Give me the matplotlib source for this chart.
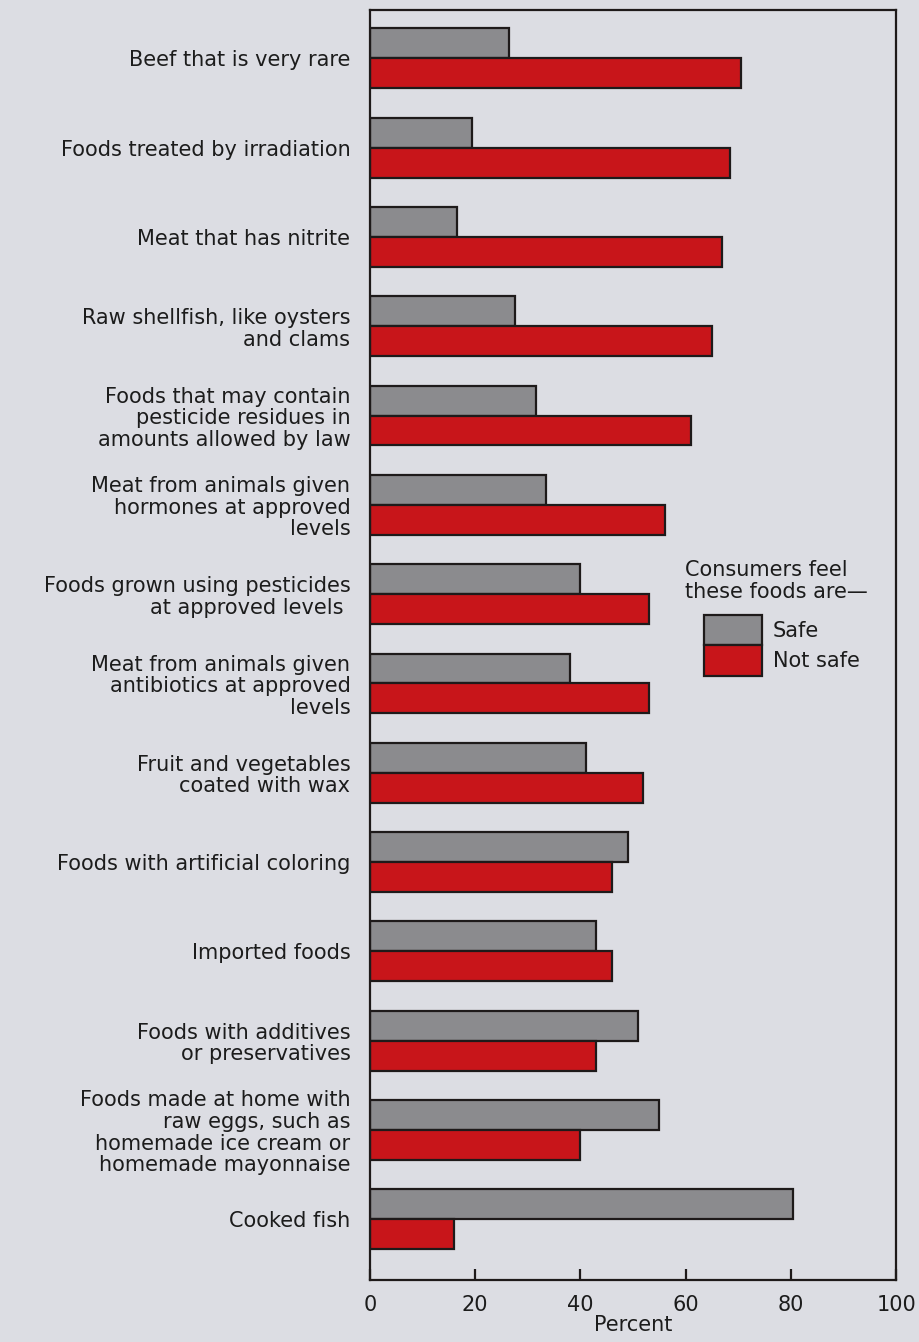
import numpy as np
import matplotlib.pyplot as plt
from matplotlib.patches import Patch

# --- data: share of consumers judging each food safe / not safe (%) ---
foods = [
    "Beef that is very rare",
    "Foods treated by irradiation",
    "Meat that has nitrite",
    "Raw shellfish, like oysters\nand clams",
    "Foods that may contain\npesticide residues in\namounts allowed by law",
    "Meat from animals given\nhormones at approved\nlevels",
    "Foods grown using pesticides\nat approved levels ",
    "Meat from animals given\nantibiotics at approved\nlevels",
    "Fruit and vegetables\ncoated with wax",
    "Foods with artificial coloring",
    "Imported foods",
    "Foods with additives\nor preservatives",
    "Foods made at home with\nraw eggs, such as\nhomemade ice cream or\nhomemade mayonnaise",
    "Cooked fish",
]
safe = [26.5, 19.5, 16.5, 27.5, 31.5, 33.5, 40, 38, 41, 49, 43, 51, 55, 80.5]
not_safe = [70.5, 68.5, 67, 65, 61, 56, 53, 53, 52, 46, 46, 43, 40, 16]

bg = "#dcdde3"
grey = "#8b8b8e"
red = "#c8151a"
edge = "#1e1a1a"
txt = "#1c1c1c"
fs = 15

plt.rcParams['font.family'] = ['DejaVu Sans']

fig = plt.figure(figsize=(9.2, 13.42), dpi=100, facecolor=bg)
ax = fig.add_axes([0.402, 0.0462, 0.572, 0.9463], facecolor=bg)

y = np.arange(len(foods))
h = 0.335
ax.barh(y - h / 2, safe, height=h, color=grey, edgecolor=edge, linewidth=1.6, label="Safe")
ax.barh(y + h / 2, not_safe, height=h, color=red, edgecolor=edge, linewidth=1.6, label="Not safe")

ax.set_xlim(0, 100)
ax.set_ylim(13.68, -0.54)

ax.set_yticks(y)
ax.set_yticklabels(foods, fontsize=fs, color=txt, linespacing=1.1)
ax.tick_params(axis='y', length=0, pad=14)

ax.set_xticks([0, 20, 40, 60, 80, 100])
ax.tick_params(axis='x', direction='in', length=8, width=1.6, color=edge,
               labelsize=fs, labelcolor=txt, pad=11)
ax.set_xlabel("Percent", fontsize=fs, color=txt, labelpad=0)

for s in ax.spines.values():
    s.set_linewidth(1.6)
    s.set_color(edge)

# legend: heading text plus stacked swatches
ax.text(0.598, 0.567, "Consumers feel\nthese foods are\u2014", transform=ax.transAxes,
        fontsize=fs, color=txt, va='top', ha='left', linespacing=1.1)
handles = [Patch(facecolor=grey, edgecolor=edge, linewidth=1.6, label="Safe"),
           Patch(facecolor=red, edgecolor=edge, linewidth=1.6, label="Not safe")]
ax.legend(handles=handles, loc='upper left', bbox_to_anchor=(0.635, 0.524),
          frameon=False, fontsize=fs, handlelength=2.8, handleheight=1.9,
          labelspacing=0.0, handletextpad=0.5, borderpad=0, borderaxespad=0,
          labelcolor=txt)

fig.savefig("out.png", dpi=100, facecolor=bg)
